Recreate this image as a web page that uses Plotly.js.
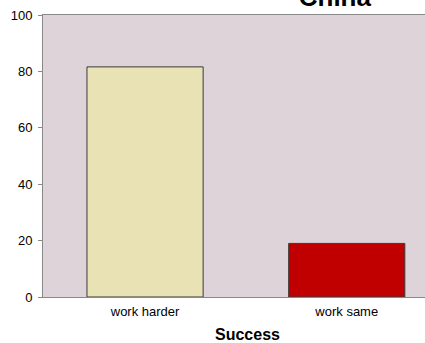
<!DOCTYPE html>
<html>
<head>
<meta charset="utf-8">
<script src="https://cdn.plot.ly/plotly-3.0.1.min.js"></script>
<style>
html,body{margin:0;padding:0;overflow:hidden;background:#fff;}
#chart{width:425px;height:343px;}
</style>
</head>
<body>
<div id="chart"></div>
<script>
const categories = ["work harder", "work same"];
const values = [81.6, 19];
const barColors = ["#E8E2B4", "#C00000"];
const yTicks = [0, 20, 40, 60, 80, 100];
const chartTitle = "China";
const xTitle = "Success";

const font = "Arial, 'Liberation Sans', sans-serif";

const trace = {
  type: "bar",
  x: categories,
  y: values,
  marker: { color: barColors, line: { color: "#3a3a3a", width: 1 } },
  hoverinfo: "x+y"
};

const layout = {
  width: 425,
  height: 343,
  margin: { l: 43, r: 0, t: 15, b: 46, pad: 0 },
  paper_bgcolor: "#ffffff",
  plot_bgcolor: "#DDD3D8",
  showlegend: false,
  bargap: 0.424,
  font: { family: font, size: 13, color: "#000" },
  title: {
    text: "<b>" + chartTitle + "</b>",
    font: { family: font, size: 26, color: "#000" },
    xref: "paper", x: 0.764, xanchor: "center",
    yref: "paper", y: 1, yanchor: "bottom",
    pad: { b: 9.3, t: 0, l: 0, r: 0 }
  },
  xaxis: {
    type: "category",
    range: [-0.506, 1.388],
    showline: true, linecolor: "#888888", linewidth: 1, mirror: true,
    ticks: "", showgrid: false, zeroline: false,
    ticklabelstandoff: 2,
    tickfont: { family: font, size: 13, color: "#000" },
    fixedrange: true
  },
  yaxis: {
    range: [0, 100],
    tickvals: yTicks,
    ticktext: yTicks.map(String),
    showline: true, linecolor: "#888888", linewidth: 1,
    ticks: "outside", ticklen: 4, tickcolor: "#888888", tickwidth: 1,
    ticklabelstandoff: 3,
    showgrid: false, zeroline: false,
    tickfont: { family: font, size: 13, color: "#000" },
    fixedrange: true
  },
  annotations: [{
    text: "<b>" + xTitle + "</b>",
    xref: "paper", yref: "paper",
    x: 0.536, y: -0.1337, xanchor: "center", yanchor: "middle",
    showarrow: false,
    font: { family: font, size: 16, color: "#000" }
  }]
};

Plotly.newPlot("chart", [trace], layout, { displayModeBar: false, staticPlot: true });
</script>
</body>
</html>
